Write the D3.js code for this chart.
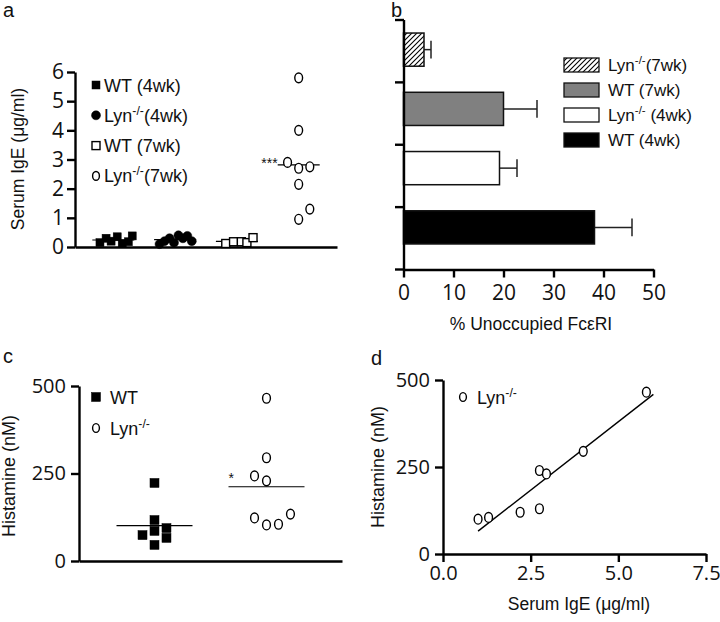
<!DOCTYPE html>
<html>
<head>
<meta charset="utf-8">
<script src="https://cdn.jsdelivr.net/npm/d3@7"></script>
<style>
  body { margin: 0; background: #fff; }
  text { font-family: "Liberation Sans", Arial, sans-serif; fill: #111; }
</style>
</head>
<body>
<div id="chart"></div>
<script>
// ---- panel a : serum IgE per group (jitter in slot units) ----
const groupsA = ["WT (4wk)", "Lyn-/-(4wk)", "WT (7wk)", "Lyn-/-(7wk)"];
const igeWT4 = [0.15, 0.3, 0.2, 0.35, 0.12, 0.18, 0.38];
const jitWT4 = [-1.2, -0.65, -0.2, 0.35, 0.8, 1.35, 1.7];
const igeLyn4 = [0.1, 0.2, 0.3, 0.15, 0.4, 0.3, 0.38, 0.2];
const jitLyn4 = [-1.4, -0.95, -0.5, -0.1, 0.3, 0.7, 1.1, 1.5];
const igeWT7 = [0.12, 0.18, 0.18, 0.15, 0.32];
const jitWT7 = [-1.0, -0.3, 0.4, 0.9, 1.45];
const igeLyn7 = [5.8, 4.0, 2.9, 2.7, 2.75, 2.15, 1.3, 0.95];
const jitLyn7 = [0, 0, -1, 0, 1, 0, 1, 0];
const ticksA = [0, 1, 2, 3, 4, 5, 6];

// ---- panel b : % unoccupied FceRI ----
const groupsB = ["Lyn-/-(7wk)", "WT (7wk)", "Lyn-/- (4wk)", "WT (4wk)"];
const unoccMean = [4.1, 20.0, 19.2, 38.2];
const unoccErr = [1.4, 6.7, 3.5, 7.5];
const ticksB = [0, 10, 20, 30, 40, 50];

// ---- panel c : histamine per genotype ----
const groupsC = ["WT", "Lyn-/-"];
const histWT = [223, 117, 86, 74, 94, 66, 46];
const jitWT = [0, 0, 0, -1, 1, 1, 0];
const histLyn = [465, 295, 243, 229, 123, 103, 105, 134];
const jitLyn = [0, 0, -1, 0, -1, 0, 1, 2];
const ticksC = [0, 250, 500];

// ---- panel d : histamine vs serum IgE (Lyn-/-) ----
const igeD = [1.0, 1.3, 2.2, 2.75, 2.75, 2.95, 4.0, 5.8];
const histD = [100, 105, 120, 130, 240, 230, 295, 465];
const ticksDx = [0, 2.5, 5, 7.5];
const ticksDy = [0, 250, 500];

const svg = d3.select("#chart").append("svg")
  .attr("width", 720).attr("height", 622);

const tickFont = "'Open Sans', 'DejaVu Sans', sans-serif";

function styleAxis(g, size) {
  g.selectAll(".domain, .tick line").attr("stroke", "#000").attr("stroke-width", 2.4);
  g.selectAll(".tick text").style("font-family", tickFont).attr("font-size", size).style("fill", "#111");
}

// writes "Lyn-/-" with a superscript, then the rest of the label
function labelText(sel, label) {
  if (label.startsWith("Lyn-/-")) {
    sel.append("tspan").text("Lyn");
    sel.append("tspan").attr("dy", -7).attr("font-size", "0.68em").text("-/-");
    const rest = label.slice(6);
    if (rest) sel.append("tspan").attr("dy", 7).text(rest);
  } else {
    sel.text(label);
  }
}

function drawMarker(g, shape, filled, cx, cy, s) {
  if (shape === "square") {
    g.append("rect").attr("x", cx - s / 2).attr("y", cy - s / 2)
      .attr("width", s).attr("height", s)
      .attr("fill", filled ? "#000" : "#fff").attr("stroke", "#000")
      .attr("stroke-width", filled ? 0.5 : 1.4);
  } else {
    g.append("ellipse").attr("cx", cx).attr("cy", cy)
      .attr("rx", filled ? s / 2 : s / 2 - 0.6).attr("ry", s / 2 + (filled ? 0 : 0.4))
      .attr("fill", filled ? "#000" : "#fff").attr("stroke", "#000")
      .attr("stroke-width", filled ? 0.5 : 1.4);
  }
}

function panelLabel(t, x, y) {
  svg.append("text").attr("x", x).attr("y", y).attr("font-size", 20).text(t);
}

// ================= panel a =================
{
  const ya = d3.scaleLinear().domain([0, 6]).range([247, 72]);
  const xa = d3.scalePoint().domain(groupsA).range([75, 337]).padding(0.62);
  const slot = xa.step() * 0.18;
  const g = svg.append("g");

  g.append("g").attr("transform", "translate(75,0)")
    .call(d3.axisLeft(ya).tickValues(ticksA).tickFormat(d3.format("d")).tickSize(8).tickPadding(3).tickSizeOuter(0))
    .call(a => styleAxis(a, 21));
  g.append("g").attr("transform", `translate(0,${ya(0)})`)
    .call(d3.axisBottom(xa).tickValues([]).tickSizeOuter(0))
    .call(a => styleAxis(a, 21));

  const series = [
    { vals: igeWT4, jit: jitWT4, shape: "square", filled: true, s: 8 },
    { vals: igeLyn4, jit: jitLyn4, shape: "circle", filled: true, s: 9 },
    { vals: igeWT7, jit: jitWT7, shape: "square", filled: false, s: 8 },
    { vals: igeLyn7, jit: jitLyn7, shape: "circle", filled: false, s: 9 }
  ];
  series.forEach((sr, i) => {
    const cx = xa(groupsA[i]);
    const m = d3.mean(sr.vals);
    g.append("line").attr("x1", cx - 21).attr("x2", cx + 21)
      .attr("y1", ya(m)).attr("y2", ya(m)).attr("stroke", "#000").attr("stroke-width", 1.2);
    sr.vals.forEach((v, j) => drawMarker(g, sr.shape, sr.filled, cx + sr.jit[j] * slot, ya(v), sr.s));
  });
  const mLyn7 = d3.mean(igeLyn7);
  g.append("text").attr("x", xa(groupsA[3]) - 21).attr("y", ya(mLyn7) + 3)
    .attr("text-anchor", "end").attr("font-size", 14).text("***");

  // legend
  series.forEach((sr, i) => {
    const cy = 85 + i * 30.3;
    drawMarker(g, sr.shape, sr.filled, 96, cy, sr.shape === "circle" && !sr.filled ? 8 : (sr.s));
    const t = g.append("text").attr("x", 104).attr("y", cy + 6.5).attr("font-size", 18);
    labelText(t, groupsA[i]);
  });

  g.append("text").attr("transform", "translate(24,159) rotate(-90)")
    .attr("text-anchor", "middle").attr("font-size", 17.5).text("Serum IgE (\u03bcg/ml)");
  panelLabel("a", 3, 17);
}

// ================= panel b =================
{
  const xb = d3.scaleLinear().domain([0, 50]).range([403.5, 653.5]);
  const yTick = d3.scaleBand().domain(groupsB).range([20, 269.5]);
  const yb = d3.scaleBand().domain(groupsB).range([20, 257]).paddingInner(0.44).paddingOuter(0.22);
  const g = svg.append("g");

  const defs = svg.append("defs");
  const pat = defs.append("pattern").attr("id", "hatch").attr("patternUnits", "userSpaceOnUse")
    .attr("width", 5).attr("height", 5);
  pat.append("rect").attr("width", 5).attr("height", 5).attr("fill", "#fff");
  pat.append("path").attr("d", "M0,5 L5,0 M-1,1 L1,-1 M4,6 L6,4")
    .attr("stroke", "#000").attr("stroke-width", 1.1);
  const fills = ["url(#hatch)", "#808080", "#fff", "#000"];

  // bars
  groupsB.forEach((c, i) => {
    const y0 = yb(c), bw = yb.bandwidth(), cy = y0 + bw / 2;
    g.append("line").attr("x1", xb(unoccMean[i])).attr("x2", xb(unoccMean[i] + unoccErr[i]))
      .attr("y1", cy).attr("y2", cy).attr("stroke", "#222").attr("stroke-width", 1.5);
    g.append("line").attr("x1", xb(unoccMean[i] + unoccErr[i])).attr("x2", xb(unoccMean[i] + unoccErr[i]))
      .attr("y1", cy - bw * 0.27).attr("y2", cy + bw * 0.27).attr("stroke", "#222").attr("stroke-width", 1.5);
    g.append("rect").attr("x", xb(0)).attr("y", y0)
      .attr("width", xb(unoccMean[i]) - xb(0)).attr("height", bw)
      .attr("fill", fills[i]).attr("stroke", "#111").attr("stroke-width", 1.5);
  });

  // y axis with ticks on band boundaries
  const yTicks = groupsB.map(c => yTick(c)).concat([yTick.range()[1]]);
  g.append("line").attr("x1", 404).attr("x2", 404).attr("y1", yTick.range()[0]).attr("y2", yTick.range()[1])
    .attr("stroke", "#000").attr("stroke-width", 2.4);
  g.selectAll(".ytk").data(yTicks).join("line")
    .attr("x1", 395).attr("x2", 404).attr("y1", d => d).attr("y2", d => d)
    .attr("stroke", "#000").attr("stroke-width", 2.4);

  g.append("g").attr("transform", `translate(0,${yTick.range()[1]})`)
    .call(d3.axisBottom(xb).tickValues(ticksB).tickSize(8).tickPadding(8).tickSizeOuter(0))
    .call(a => styleAxis(a, 21));

  g.append("text").attr("x", 531).attr("y", 330).attr("text-anchor", "middle")
    .attr("font-size", 17.5).text("% Unoccupied Fc\u03b5RI");

  // legend
  groupsB.forEach((c, i) => {
    const cy = 65 + i * 25;
    g.append("rect").attr("x", 564).attr("y", cy - 7).attr("width", 35).attr("height", 14)
      .attr("fill", fills[i]).attr("stroke", "#111").attr("stroke-width", 1.3);
    const t = g.append("text").attr("x", 608).attr("y", cy + 6).attr("font-size", 17);
    labelText(t, c);
  });
  panelLabel("b", 391, 17);
}

// ================= panel c =================
{
  const yc = d3.scaleLinear().domain([0, 500]).range([561, 386]);
  const xc = d3.scalePoint().domain(groupsC).range([79, 342]).padding(0.674);
  const slot = xc.step() * 0.107;
  const g = svg.append("g");

  g.append("g").attr("transform", "translate(79,0)")
    .call(d3.axisLeft(yc).tickValues(ticksC).tickSize(8).tickPadding(5).tickSizeOuter(0))
    .call(a => styleAxis(a, 20));
  g.append("g").attr("transform", `translate(0,${yc(0)})`)
    .call(d3.axisBottom(xc).tickValues([]).tickSizeOuter(0))
    .call(a => styleAxis(a, 20));

  const series = [
    { vals: histWT, jit: jitWT, shape: "square", filled: true, s: 9 },
    { vals: histLyn, jit: jitLyn, shape: "circle", filled: false, s: 9 }
  ];
  series.forEach((sr, i) => {
    const cx = xc(groupsC[i]);
    const m = d3.mean(sr.vals);
    g.append("line").attr("x1", cx - 38).attr("x2", cx + 38)
      .attr("y1", yc(m)).attr("y2", yc(m)).attr("stroke", "#000").attr("stroke-width", 1.2);
    sr.vals.forEach((v, j) => drawMarker(g, sr.shape, sr.filled, cx + sr.jit[j] * slot, yc(v), sr.s));
    const cy = 397 + i * 31;
    drawMarker(g, sr.shape, sr.filled, 96, cy, sr.shape === "circle" ? 8 : sr.s);
    const t = g.append("text").attr("x", 110).attr("y", cy + 6.5).attr("font-size", 18);
    labelText(t, groupsC[i]);
  });
  g.append("text").attr("x", xc(groupsC[1]) - 38).attr("y", yc(d3.mean(histLyn)) - 4)
    .attr("font-size", 14).text("*");

  g.append("text").attr("transform", "translate(15,476) rotate(-90)")
    .attr("text-anchor", "middle").attr("font-size", 18).text("Histamine (nM)");
  panelLabel("c", 3, 363);
}

// ================= panel d =================
{
  const xd = d3.scaleLinear().domain([0, 7.5]).range([443, 706]);
  const yd = d3.scaleLinear().domain([0, 500]).range([554, 380]);
  const g = svg.append("g");

  g.append("g").attr("transform", "translate(443,0)")
    .call(d3.axisLeft(yd).tickValues(ticksDy).tickSize(8).tickPadding(5).tickSizeOuter(0))
    .call(a => styleAxis(a, 20));
  g.append("g").attr("transform", `translate(0,${yd(0)})`)
    .call(d3.axisBottom(xd).tickValues(ticksDx).tickFormat(d3.format(".1f")).tickSize(8).tickPadding(4).tickSizeOuter(0))
    .call(a => styleAxis(a, 20));

  // least-squares fit line
  const mx = d3.mean(igeD), my = d3.mean(histD);
  const slope = d3.sum(igeD, (x, i) => (x - mx) * (histD[i] - my)) / d3.sum(igeD, x => (x - mx) ** 2);
  const icpt = my - slope * mx;
  const fitX = [d3.min(igeD), 6.0];
  g.append("line").attr("x1", xd(fitX[0])).attr("x2", xd(fitX[1]))
    .attr("y1", yd(icpt + slope * fitX[0])).attr("y2", yd(icpt + slope * fitX[1]))
    .attr("stroke", "#000").attr("stroke-width", 1.4);

  igeD.forEach((x, i) => drawMarker(g, "circle", false, xd(x), yd(histD[i]), 9));

  drawMarker(g, "circle", false, 463, 397, 8);
  const t = g.append("text").attr("x", 477).attr("y", 403.5).attr("font-size", 18);
  labelText(t, "Lyn-/-");

  g.append("text").attr("x", 579).attr("y", 610).attr("text-anchor", "middle")
    .attr("font-size", 17.5).text("Serum IgE (\u03bcg/ml)");
  g.append("text").attr("transform", "translate(384,467) rotate(-90)")
    .attr("text-anchor", "middle").attr("font-size", 18).text("Histamine (nM)");
  panelLabel("d", 371, 365);
}
</script>
</body>
</html>
